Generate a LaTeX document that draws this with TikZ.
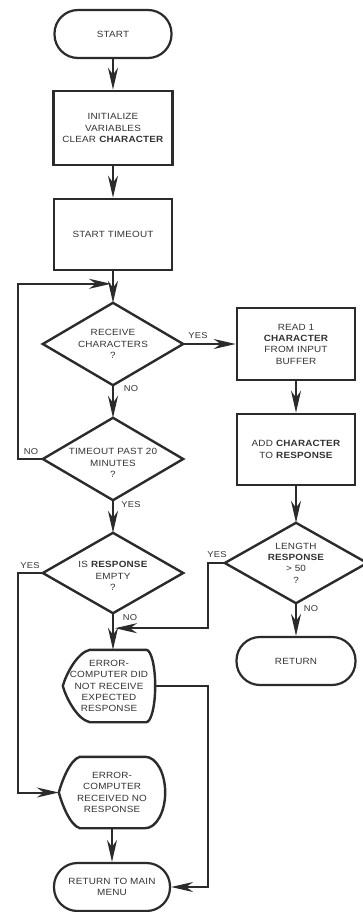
\documentclass[tikz,border=0pt]{standalone}
\usepackage{fontspec}
\setmainfont{Liberation Sans}[FakeStretch=1.1,LetterSpace=2]
\usetikzlibrary{arrows.meta,calc}
\definecolor{ink}{HTML}{2B2B2B}
\definecolor{txtc}{HTML}{333333}
\begin{document}
\begin{tikzpicture}[x=1bp,y=-1bp,
  every node/.style={font=\fontsize{9bp}{11.3bp}\selectfont, text=txtc},
  term/.style={draw=ink, line width=2.2bp, rounded corners=23.5bp, align=center, inner sep=0pt},
  proc/.style={draw=ink, line width=2.6bp, align=center, inner sep=0pt},
  txt/.style={align=center, inner sep=0pt},
  outline/.style={draw=ink, line width=2.4bp, line join=miter},
  lbl/.style={font=\fontsize{8.5bp}{10bp}\selectfont, inner sep=0pt},
  arr/.style={draw=ink, line width=2bp, -{Stealth[length=22bp,width=10bp,inset=7bp]}}]
\useasboundingbox (0,0) rectangle (362,912);
% nodes
\node[term, minimum width=117bp, minimum height=48bp] (start) at (113,34) {START};
\node[proc, minimum width=119bp, minimum height=74bp] (init) at (113,128) {INITIALIZE\\VARIABLES\\CLEAR \textbf{CHARACTER}};
\node[proc, minimum width=118bp, minimum height=71bp] (tmo) at (113,234.5) {START TIMEOUT};
\node[txt, minimum width=140bp, minimum height=82bp] (recv) at (113,344) {RECEIVE\\CHARACTERS\\?};
\node[txt, minimum width=140bp, minimum height=82bp] (tmoq) at (113,459) {\rule{0pt}{14bp}TIMEOUT PAST 20\\MINUTES\\?};
\node[txt, minimum width=140bp, minimum height=80bp] (isresp) at (113,573) {\rule{0pt}{12bp}IS \textbf{RESPONSE}\\EMPTY\\?};
\node[proc, minimum width=118bp, minimum height=72bp] (read) at (296,344) {READ 1\\\textbf{CHARACTER}\\FROM INPUT\\BUFFER};
\node[proc, minimum width=118bp, minimum height=71bp] (add) at (296,449.5) {ADD \textbf{CHARACTER}\\TO \textbf{RESPONSE}};
\node[txt, minimum width=142bp, minimum height=80bp] (len) at (296,563) {LENGTH\\\textbf{RESPONSE}\\> 50\\?};
\node[term, minimum width=119bp, minimum height=48bp] (ret) at (296,661) {RETURN};
\node[txt, minimum width=92bp, minimum height=72bp] (e1) at (109,686) {ERROR-\\COMPUTER DID\\NOT RECEIVE\\EXPECTED\\RESPONSE};
\node[txt, minimum width=106bp, minimum height=71bp] (e2) at (112,792.5) {ERROR-\\COMPUTER\\RECEIVED NO\\RESPONSE};
\node[term, minimum width=116bp, minimum height=48bp] (rtm) at (112,887) {RETURN TO MAIN\\MENU};
% labels
\node[lbl] (yes1) at (198,336) {YES};
\node[lbl] (no1) at (131,389) {NO};
\node[lbl] (no2) at (31,452) {NO};
\node[lbl] (yes2) at (131,505) {YES};
\node[lbl] (yes3) at (30,566) {YES};
\node[lbl] (no3) at (130,618) {NO};
\node[lbl] (yes4) at (217,555) {YES};
\node[lbl] (no4) at (311,609) {NO};
% outlines of decisions
\foreach \n in {recv,tmoq,isresp,len}
  \draw[outline] (\n.north) -- (\n.east) -- (\n.south) -- (\n.west) -- cycle;
% display shapes
\draw[outline] ($(e1.north west)+(27,0)$) -- ($(e1.north east)+(-9,0)$)
  .. controls ($(e1.north east)+(-4,0)$) and ($(e1.east)+(0,-19.8)$) .. (e1.east)
  .. controls ($(e1.east)+(0,19.8)$) and ($(e1.south east)+(-4,0)$) .. ($(e1.south east)+(-9,0)$)
  -- ($(e1.south west)+(27,0)$)
  .. controls ($(e1.south west)+(14,-3)$) and ($(e1.west)+(3,11)$) .. (e1.west)
  .. controls ($(e1.west)+(3,-11)$) and ($(e1.north west)+(14,3)$) .. cycle;
\draw[outline] ($(e2.north west)+(21,0)$) -- ($(e2.north east)+(-20,0)$)
  .. controls ($(e2.north east)+(-9,0)$) and ($(e2.east)+(0,-19.5)$) .. (e2.east)
  .. controls ($(e2.east)+(0,19.5)$) and ($(e2.south east)+(-9,0)$) .. ($(e2.south east)+(-20,0)$)
  -- ($(e2.south west)+(21,0)$)
  .. controls ($(e2.south west)+(11,-3)$) and ($(e2.west)+(3,11)$) .. (e2.west)
  .. controls ($(e2.west)+(3,-11)$) and ($(e2.north west)+(11,3)$) .. cycle;
% connectors
\draw[arr] (start.south) -- (init.north);
\draw[arr] (init.south) -- (tmo.north);
\draw[arr] (tmo.south) -- (recv.north);
\draw[arr] (recv.east) -- (read.west);
\draw[arr] (recv.south) -- (tmoq.north);
\draw[arr] (tmoq.west) -- ++(-25,0) |- ($(recv.north)+(-2,-19)$);
\draw[arr] (tmoq.south) -- (isresp.north);
\draw[arr] (read.south) -- (add.north);
\draw[arr] (add.south) -- (len.north);
\draw[arr] (len.south) -- (ret.north);
\draw[arr] (len.west) -- ++(-17,0) |- ($(isresp.south)+(2,15)$);
\draw[arr] (isresp.south) -- (isresp.south |- e1.north);
\draw[arr] (isresp.west) -- ++(-25,0) |- (e2.west);
\draw[arr] (e1.east) -- ++(53,0) |- (rtm.east);
\draw[arr] (e2.south) -- (rtm.north);
\end{tikzpicture}
\end{document}
